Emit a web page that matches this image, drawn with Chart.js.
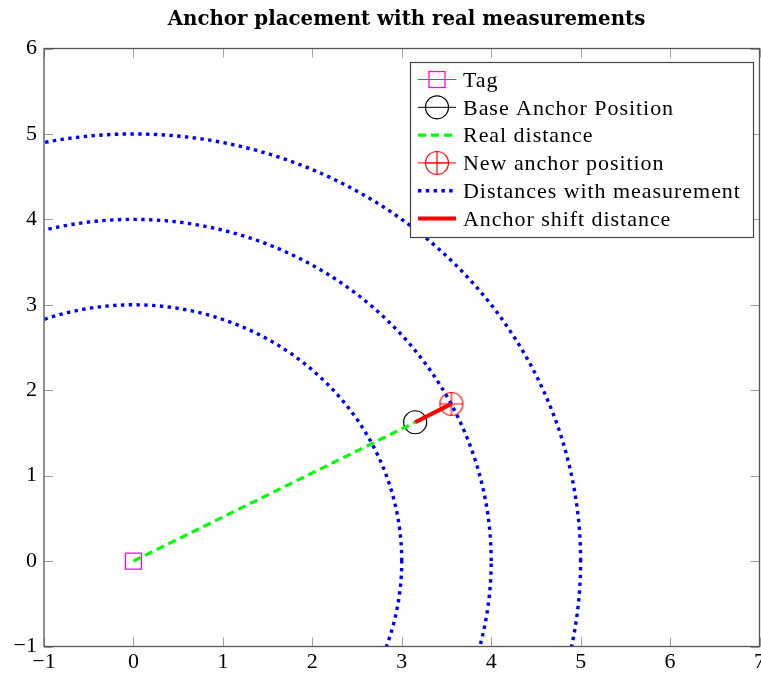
<!DOCTYPE html>
<html><head><meta charset="utf-8">
<script src="https://cdn.jsdelivr.net/npm/chart.js@4/dist/chart.umd.min.js"></script>
<style>html,body{margin:0;padding:0;background:#fff;overflow:hidden}</style>
</head><body>
<canvas id="c" width="761" height="673"></canvas>
<script>
// ---- data ----
const chartTitle = 'Anchor placement with real measurements';
const seriesNames = ['Tag', 'Base Anchor Position', 'Real distance', 'New anchor position', 'Distances with measurement', 'Anchor shift distance'];
const tagPoint = [0, 0];
const baseAnchor = [3.15, 1.625];
const newAnchor = [3.555, 1.84];
const measuredRadii = [3, 4, 5];
const xTickValues = [-1, 0, 1, 2, 3, 4, 5, 6, 7];
const yTickValues = [-1, 0, 1, 2, 3, 4, 5, 6];

const FONT = "'Liberation Serif', 'Times New Roman', serif";
const TITLE_FONT = "'DejaVu Serif', serif";
const fmt = v => (v < 0 ? '\u2212' + Math.abs(v) : String(v));

function makeOplus(r, color, lw) {
  const s = 2 * Math.ceil(r + lw);
  const c = document.createElement('canvas');
  c.width = s; c.height = s;
  const g = c.getContext('2d');
  g.strokeStyle = color; g.lineWidth = lw;
  g.beginPath();
  g.arc(s / 2, s / 2, r, 0, Math.PI * 2);
  g.moveTo(s / 2 - r, s / 2); g.lineTo(s / 2 + r, s / 2);
  g.moveTo(s / 2, s / 2 - r); g.lineTo(s / 2, s / 2 + r);
  g.stroke();
  return c;
}
const oplusImg = makeOplus(11.5, '#ff0000', 1.2);

function circlePoints(r) {
  const pts = [];
  const n = 360;
  for (let i = 0; i <= n; i++) {
    const a = i / n * Math.PI * 2;
    pts.push({ x: r * Math.cos(a), y: r * Math.sin(a) });
  }
  return pts;
}

const datasets = [
  { label: seriesNames[0], data: [{ x: tagPoint[0], y: tagPoint[1] }], showLine: false,
    pointStyle: 'rect', pointRadius: 11.3, pointBorderColor: '#ff00ff', pointBackgroundColor: 'rgba(0,0,0,0)',
    pointBorderWidth: 1.3, borderColor: '#ff00ff' },
  { label: seriesNames[1], data: [{ x: baseAnchor[0], y: baseAnchor[1] }], showLine: false,
    pointStyle: 'circle', pointRadius: 11.5, pointBorderColor: '#000', pointBackgroundColor: 'rgba(0,0,0,0)',
    pointBorderWidth: 1.2, borderColor: '#000' },
  { label: seriesNames[2], data: [{ x: tagPoint[0], y: tagPoint[1] }, { x: baseAnchor[0], y: baseAnchor[1] }],
    showLine: true, borderColor: '#00ff00', borderWidth: 3.2, borderDash: [8, 5], pointRadius: 0 },
  { label: seriesNames[3], data: [{ x: newAnchor[0], y: newAnchor[1] }], showLine: false,
    pointStyle: oplusImg, pointRadius: 11.5, borderColor: '#ff0000' },
];
measuredRadii.forEach((r, i) => {
  datasets.push({ label: i === 0 ? seriesNames[4] : '', data: circlePoints(r), showLine: true,
    borderColor: '#0000ff', borderWidth: 3.4, borderDash: [3.4, 4.4], borderCapStyle: 'butt',
    pointRadius: 0, clip: 0, tension: 0, legendSkip: i > 0 });
});
datasets.push({ label: seriesNames[5], data: [{ x: baseAnchor[0], y: baseAnchor[1] }, { x: newAnchor[0], y: newAnchor[1] }],
  showLine: true, borderColor: '#ff0000', borderWidth: 4, pointRadius: 0 });
datasets.forEach((d, i) => { d.order = -i; });

const frame = {
  id: 'frame',
  afterDatasetsDraw(chart) {
    const { ctx, chartArea: a, scales } = chart;
    ctx.save();
    ctx.strokeStyle = '#a0a0a0'; ctx.lineWidth = 1;
    const TL = 9;
    ctx.beginPath();
    xTickValues.forEach(v => {
      const px = Math.round(scales.x.getPixelForValue(v)) + 0.5;
      ctx.moveTo(px, a.bottom); ctx.lineTo(px, a.bottom - TL);
      ctx.moveTo(px, a.top); ctx.lineTo(px, a.top + TL);
    });
    yTickValues.forEach(v => {
      const py = Math.round(scales.y.getPixelForValue(v)) + 0.5;
      ctx.moveTo(a.left, py); ctx.lineTo(a.left + TL, py);
      ctx.moveTo(a.right, py); ctx.lineTo(a.right - TL, py);
    });
    ctx.stroke();
    ctx.strokeStyle = '#555'; ctx.lineWidth = 1.3;
    ctx.strokeRect(a.left, a.top, a.right - a.left, a.bottom - a.top);
    ctx.restore();
  },
  afterDraw(chart) {
    const ctx = chart.ctx;
    ctx.save();
    // title
    ctx.letterSpacing = '0px';
    ctx.font = 'bold 20px ' + TITLE_FONT;
    const tw = ctx.measureText(chartTitle).width;
    const tsize = Math.min(22, 20 * 478 / tw);
    ctx.font = 'bold ' + tsize.toFixed(2) + 'px ' + TITLE_FONT;
    ctx.fillStyle = '#000'; ctx.textAlign = 'center'; ctx.textBaseline = 'alphabetic';
    ctx.fillText(chartTitle, 406.5, 24.5);

    // legend
    const L = { x: 410.5, y: 62.5, w: 343, h: 175 };
    ctx.fillStyle = '#fff';
    ctx.fillRect(L.x, L.y, L.w, L.h);
    ctx.strokeStyle = '#444'; ctx.lineWidth = 1.2;
    ctx.strokeRect(L.x, L.y, L.w, L.h);
    ctx.font = '22px ' + FONT;
    ctx.letterSpacing = '0px';
    const ref = 'Distances with measurement';
    const lw = ctx.measureText(ref).width;
    const ls = (277 - lw) / (ref.length - 1);
    const entries = datasets.filter(d => !d.legendSkip);
    entries.forEach((d, i) => {
      const cy = 79.5 + i * 27.8;
      const x0 = 418, x1 = 456, xm = 437;
      ctx.save();
      ctx.strokeStyle = d.borderColor;
      if (d.showLine) {
        ctx.lineWidth = d.borderWidth;
        ctx.setLineDash(d.borderDash || []);
        ctx.lineCap = 'butt';
      } else {
        ctx.lineWidth = 1;
      }
      ctx.beginPath(); ctx.moveTo(x0, cy); ctx.lineTo(x1, cy); ctx.stroke();
      ctx.setLineDash([]);
      if (!d.showLine) {
        ctx.lineWidth = d.pointBorderWidth || 1.2;
        if (d.pointStyle === 'rect') {
          const h = d.pointRadius * Math.SQRT1_2;
          ctx.strokeRect(xm - h, cy - h, 2 * h, 2 * h);
        } else if (d.pointStyle === 'circle') {
          ctx.beginPath(); ctx.arc(xm, cy, d.pointRadius, 0, Math.PI * 2); ctx.stroke();
        } else {
          ctx.drawImage(d.pointStyle, xm - d.pointStyle.width / 2, cy - d.pointStyle.height / 2);
        }
      }
      ctx.restore();
      ctx.fillStyle = '#000'; ctx.textAlign = 'left'; ctx.textBaseline = 'alphabetic';
      ctx.font = '22px ' + FONT;
      ctx.letterSpacing = ls.toFixed(2) + 'px';
      ctx.fillText(d.label, 463, cy + 7.2);
    });
    ctx.restore();
  }
};

new Chart(document.getElementById('c'), {
  type: 'scatter',
  data: { datasets },
  options: {
    responsive: false,
    devicePixelRatio: 1,
    animation: false,
    layout: { autoPadding: false, padding: { top: 48.5, left: 0, right: 1.5, bottom: 0 } },
    plugins: { legend: { display: false }, title: { display: false }, tooltip: { enabled: false } },
    scales: {
      x: {
        type: 'linear', min: -1, max: 7,
        afterBuildTicks: s => { s.ticks = xTickValues.map(v => ({ value: v })); },
        ticks: { callback: fmt, font: { family: FONT, size: 22 }, color: '#000', padding: 3, maxRotation: 0, autoSkip: false },
        grid: { display: false, drawTicks: false },
        border: { display: false },
        afterFit: s => { s.height = 26.5; s.paddingLeft = 0; s.paddingRight = 0; }
      },
      y: {
        type: 'linear', min: -1, max: 6,
        afterBuildTicks: s => { s.ticks = yTickValues.map(v => ({ value: v })); },
        ticks: { callback: fmt, font: { family: FONT, size: 22 }, color: '#000', padding: 7, autoSkip: false },
        grid: { display: false, drawTicks: false },
        border: { display: false },
        afterFit: s => { s.width = 44; s.paddingTop = 0; s.paddingBottom = 0; }
      }
    }
  },
  plugins: [frame]
});
</script>
</body></html>
